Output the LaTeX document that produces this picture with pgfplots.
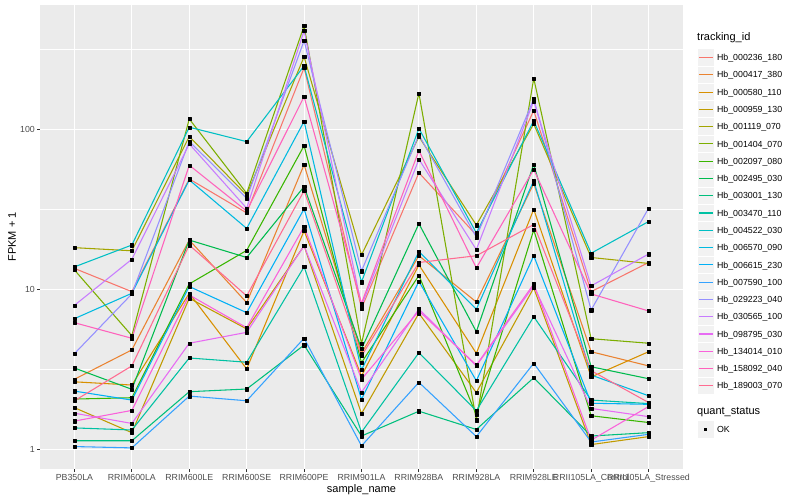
\documentclass[border=0pt]{standalone}
\usepackage{fontspec}
\setmainfont{Liberation Sans}
\usepackage{pgfplots}
\usepackage{pgfplotstable}
\pgfplotsset{compat=1.18}

% ggplot2 hue palette, 20 levels
\definecolor{c01}{HTML}{F8766D}
\definecolor{c02}{HTML}{EA8331}
\definecolor{c03}{HTML}{D89000}
\definecolor{c04}{HTML}{C09B00}
\definecolor{c05}{HTML}{A3A500}
\definecolor{c06}{HTML}{7CAE00}
\definecolor{c07}{HTML}{39B600}
\definecolor{c08}{HTML}{00BB4E}
\definecolor{c09}{HTML}{00BF7D}
\definecolor{c10}{HTML}{00C1A3}
\definecolor{c11}{HTML}{00BFC4}
\definecolor{c12}{HTML}{00BAE0}
\definecolor{c13}{HTML}{00B0F6}
\definecolor{c14}{HTML}{35A2FF}
\definecolor{c15}{HTML}{9590FF}
\definecolor{c16}{HTML}{C77CFF}
\definecolor{c17}{HTML}{E76BF3}
\definecolor{c18}{HTML}{FA62DB}
\definecolor{c19}{HTML}{FF62BC}
\definecolor{c20}{HTML}{FF6C91}
\definecolor{panelbg}{HTML}{EBEBEB}
\definecolor{keybg}{HTML}{F2F2F2}
\definecolor{grey30}{HTML}{4D4D4D}
\definecolor{grey20}{HTML}{333333}

% FPKM + 1, one row per sample (0 = PB350LA ... 10 = RRII105LA_Stressed)
\pgfplotstableread{
idx h000236 h000417 h000580 h000959 h001119 h001404 h002097 h002495 h003001 h003470 h004522 h006570 h006615 h007590 h029223 h030565 h098795 h134014 h158092 h189003
0  13.5  2.74  2.64 1.82 18.2  13.2  2.06  3.22 1.13 1.36 13.8  6.55 2.31 1.04  3.96  7.94  1.68 1.50  6.18  2.01
1  9.66  4.18  2.52 1.27 17.4  5.13  2.10  2.37 1.13 1.32 18.9  9.44 2.03 1.02  9.35  15.4  1.45 1.75  4.94  3.32
2  48.9  20.3  9.44 8.79 90.1  116   10.8  20.3 2.29 3.72 103   48.2 10.4 2.15  84    81    4.60 9.21  59.6  18.9
3  30.0  8.25  3.18 5.65 38.8  39.8  17.5  15.8 2.38 3.50 83.7  24.0 7.14 2.01  37.0  32.1  5.38 5.75  30.8  9.08
4  242   60.1  23.2 18.7 284   443   79.0  43.8 4.48 13.8 249   112  31.8 4.94  358   413   18.7 24.6  160   41.3
5  7.61  3.98  2.87 1.67 16.4  4.57  3.48  4.24 1.21 1.28 11.1  3.13 2.05 1.05  13.0  7.90  2.27 2.74  8.18  3.83
6  53.5  16.2  14.2 7.08 89.9  168   12.2  25.7 1.73 4.01 101   17.2 11.2 2.62  92.1  64.9  7.53 7.32  73.5  14.7
7  21.8  8.33  3.98 2.26 25.2  1.52  1.64  5.43 1.33 1.74 22.5  7.50 2.68 1.20  21.2  17.7  3.32 3.36  13.6  16.2
8  131   45.8  31.6 10.2 108   208   23.5  60.4 2.80 6.74 113   47.7 16.2 3.45  155   150   10.5 10.8  56.1  25.4
9  9.66  4.07  2.83 1.07 15.8  4.91  1.62  3.28 1.21 2.03 16.8  2.91 1.94 1.11  7.42  10.5  1.80 1.14  9.35  3.10
10 14.7  3.32  4.07 1.20 14.5  4.60  1.47  2.76 1.27 1.93 26.5  2.16 1.91 1.24  32.1  16.6  1.60 1.85  7.32  1.96
}\fpkm

\begin{document}
\begin{tikzpicture}
\useasboundingbox (0,0) rectangle (800bp,500bp);
\begin{axis}[
  at={(40bp,31bp)}, anchor=south west,
  scale only axis, width=643bp, height=464bp,
  ymode=log,
  xmin=-0.6, xmax=10.6,
  ymin=0.753, ymax=598,
  xtick={0,...,10},
  xticklabels={PB350LA,RRIM600LA,RRIM600LE,RRIM600SE,RRIM600PE,RRIM901LA,RRIM928BA,RRIM928LA,RRIM928LE,RRII105LA\_Control,RRII105LA\_Stressed},
  ytick={1,10,100}, yticklabels={1,10,100},
  minor ytick={3.1623,31.623,316.23},
  xmajorgrids, ymajorgrids, yminorgrids,
  major grid style={white, line width=1.07bp},
  minor grid style={white, line width=0.53bp},
  axis background/.style={fill=panelbg},
  axis line style={draw=none},
  xtick pos=bottom, ytick pos=left,
  tick align=outside,
  major tick length=2.75bp, minor tick length=0pt,
  tick style={grey20, line width=1.07bp},
  ticklabel style={font=\fontsize{8.8bp}{10bp}\selectfont, text=grey30, inner sep=0pt},
  xticklabel style={yshift=-2.2bp},
  yticklabel style={xshift=-2.2bp},
  xlabel={sample\_name}, ylabel={FPKM + 1},
  label style={font=\fontsize{11bp}{13bp}\selectfont},
  xlabel style={at={(axis description cs:0.5,-0.0442)}, anchor=center},
  ylabel style={at={(axis description cs:-0.0435,0.5)}, anchor=center},
  legend style={at={(axis description cs:1.02177,0.90591)}, anchor=north west,
    draw=none, fill=none, inner sep=0pt, row sep=0pt,
    font=\fontsize{8.8bp}{10bp}\selectfont,
    nodes={inner sep=0pt, text depth=0pt},
    /tikz/column 1/.style={column sep=2.6bp}},
  legend cell align=left,
  legend image code/.code={
    \path[draw=none, fill=none] (0bp,-8.64bp) rectangle (17.28bp,8.64bp);
    \path[draw=none, fill=keybg] (0.5bp,-8.14bp) rectangle (16.78bp,8.14bp);
    \draw[line width=1.07bp] (1.73bp,0bp) -- (15.55bp,0bp);
  },
  every axis plot/.append style={line width=1.07bp, line join=round},
  clip=false,
]
\addplot[c01] table[x=idx, y=h000236] {\fpkm}; \addlegendentry{Hb\_000236\_180}
\addplot[c02] table[x=idx, y=h000417] {\fpkm}; \addlegendentry{Hb\_000417\_380}
\addplot[c03] table[x=idx, y=h000580] {\fpkm}; \addlegendentry{Hb\_000580\_110}
\addplot[c04] table[x=idx, y=h000959] {\fpkm}; \addlegendentry{Hb\_000959\_130}
\addplot[c05] table[x=idx, y=h001119] {\fpkm}; \addlegendentry{Hb\_001119\_070}
\addplot[c06] table[x=idx, y=h001404] {\fpkm}; \addlegendentry{Hb\_001404\_070}
\addplot[c07] table[x=idx, y=h002097] {\fpkm}; \addlegendentry{Hb\_002097\_080}
\addplot[c08] table[x=idx, y=h002495] {\fpkm}; \addlegendentry{Hb\_002495\_030}
\addplot[c09] table[x=idx, y=h003001] {\fpkm}; \addlegendentry{Hb\_003001\_130}
\addplot[c10] table[x=idx, y=h003470] {\fpkm}; \addlegendentry{Hb\_003470\_110}
\addplot[c11] table[x=idx, y=h004522] {\fpkm}; \addlegendentry{Hb\_004522\_030}
\addplot[c12] table[x=idx, y=h006570] {\fpkm}; \addlegendentry{Hb\_006570\_090}
\addplot[c13] table[x=idx, y=h006615] {\fpkm}; \addlegendentry{Hb\_006615\_230}
\addplot[c14] table[x=idx, y=h007590] {\fpkm}; \addlegendentry{Hb\_007590\_100}
\addplot[c15] table[x=idx, y=h029223] {\fpkm}; \addlegendentry{Hb\_029223\_040}
\addplot[c16] table[x=idx, y=h030565] {\fpkm}; \addlegendentry{Hb\_030565\_100}
\addplot[c17] table[x=idx, y=h098795] {\fpkm}; \addlegendentry{Hb\_098795\_030}
\addplot[c18] table[x=idx, y=h134014] {\fpkm}; \addlegendentry{Hb\_134014\_010}
\addplot[c19] table[x=idx, y=h158092] {\fpkm}; \addlegendentry{Hb\_158092\_040}
\addplot[c20] table[x=idx, y=h189003] {\fpkm}; \addlegendentry{Hb\_189003\_070}

% points on top of all lines
\pgfplotsinvokeforeach{h000236,h000417,h000580,h000959,h001119,h001404,h002097,h002495,h003001,h003470,h004522,h006570,h006615,h007590,h029223,h030565,h098795,h134014,h158092,h189003}{
  \addplot[only marks, mark=square*, mark size=1.6bp, black, mark options={line width=0.2bp}, forget plot] table[x=idx, y=#1] {\fpkm};
}

% gap, then the quant_status key
\addlegendimage{legend image code/.code={\path[draw=none, fill=none] (0bp,-13.2bp) rectangle (17.28bp,13.2bp);}}
\addlegendentry{}
\addlegendimage{legend image code/.code={
  \path[draw=none, fill=none] (0bp,-8.64bp) rectangle (17.28bp,8.64bp);
  \path[draw=none, fill=keybg] (0.5bp,-8.14bp) rectangle (16.78bp,8.14bp);
  \path[draw=none, fill=black] (7.04bp,-1.6bp) rectangle (10.24bp,1.6bp);}}
\addlegendentry{OK}
\end{axis}
\node[anchor=west, inner sep=0pt, font=\fontsize{11bp}{13bp}\selectfont] at (697bp,462bp) {tracking\_id};
\node[anchor=west, inner sep=0pt, font=\fontsize{11bp}{13bp}\selectfont] at (697bp,87.7bp) {quant\_status};
\end{tikzpicture}
\end{document}
